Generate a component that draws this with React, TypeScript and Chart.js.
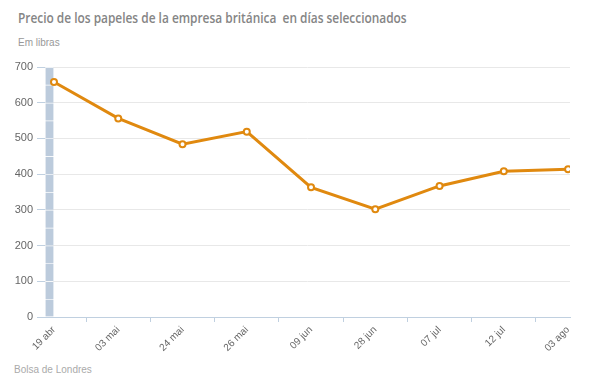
import React, { useEffect, useRef } from "react";
import { Chart, registerables } from "chart.js";

Chart.register(...registerables);

const categories = ["19 abr", "03 mai", "24 mai", "26 mai", "09 jun", "28 jun", "07 jul", "12 jul", "03 ago"];
const prices = [658, 556, 484, 519, 363, 302, 367, 408, 414];
const bandBounds = [0, 50, 100, 150, 200, 250, 300, 350, 400, 450, 500, 550, 600, 650, 700];
const yTicks = [0, 100, 200, 300, 400, 500, 600, 700];

const ORANGE = "#e0890f";

export default function App() {
  const ref = useRef<HTMLCanvasElement | null>(null);

  useEffect(() => {
    if (!ref.current) return;
    const bandData = bandBounds.slice(0, -1).map((b, i) => ({ x: -0.07, y: [b, bandBounds[i + 1]] }));
    const lineData = prices.map((v, i) => ({ x: i, y: v }));
    const chart = new Chart(ref.current, {
      type: "line",
      data: {
        datasets: [
          {
            type: "line",
            data: lineData as any,
            borderColor: ORANGE,
            borderWidth: 3,
            pointRadius: 3,
            pointBorderWidth: 2,
            pointBackgroundColor: "#ffffff",
            pointBorderColor: ORANGE,
            tension: 0,
            order: 0,
          },
          {
            type: "bar",
            data: bandData as any,
            backgroundColor: "#bccbdc",
            borderColor: "#ffffff",
            borderWidth: { top: 1, bottom: 0, left: 0, right: 0 } as any,
            borderSkipped: false,
            barThickness: 8,
            order: 1,
          } as any,
        ],
      },
      options: {
        animation: false,
        responsive: false,
        maintainAspectRatio: false,
        layout: { padding: { left: 0, right: 26, top: 67, bottom: 0 } },
        plugins: { legend: { display: false }, tooltip: { enabled: false }, title: { display: false } },
        scales: {
          x: {
            type: "linear",
            offset: false,
            min: -0.14,
            max: 8.03,
            afterBuildTicks: (scale: any) => {
              const t: any[] = [];
              for (let i = 0; i < categories.length; i++) {
                t.push({ value: i });
                if (i < categories.length - 1) t.push({ value: i + 0.5 });
              }
              scale.ticks = t;
            },
            afterFit: (scale: any) => {
              scale.height = 75;
              scale.paddingLeft = 0;
              scale.paddingRight = 0;
            },
            border: { display: true, color: "#c0d0e0", width: 1 },
            grid: {
              offset: false,
              drawOnChartArea: false,
              drawTicks: true,
              tickLength: 5,
              tickColor: (ctx: any) => (ctx.tick && Number.isInteger(ctx.tick.value) ? "rgba(0,0,0,0)" : "#c0d0e0"),
            },
            ticks: {
              autoSkip: false,
              minRotation: 45,
              maxRotation: 45,
              padding: 2,
              color: "#666666",
              font: { family: "Liberation Sans", size: 10 },
              callback: (v: any) => (Number.isInteger(v) ? categories[v] : ""),
            },
          },
          y: {
            min: 0,
            max: 700,
            afterBuildTicks: (scale: any) => {
              scale.ticks = yTicks.map((v) => ({ value: v }));
            },
            afterFit: (scale: any) => {
              scale.width = 45;
            },
            border: { display: false },
            grid: {
              color: "#e8e8e8",
              lineWidth: 1,
              drawTicks: true,
              tickLength: 8,
              tickColor: "#c0d0e0",
            },
            ticks: {
              padding: 4,
              color: "#666666",
              font: { family: "Liberation Sans", size: 11 },
            },
          },
        },
      },
    });
    return () => chart.destroy();
  }, []);

  return (
    <div style={{ position: "absolute", left: 0, top: 0, width: 596, height: 392, background: "#fff", overflow: "hidden" }}>
      <div
        style={{
          position: "absolute",
          left: 18,
          top: 8,
          fontFamily: "'Open Sans', sans-serif",
          fontWeight: 600,
          fontSize: 14.5,
          color: "#858585",
          whiteSpace: "pre",
          transform: "scaleX(0.82)",
          transformOrigin: "0 0",
        }}
      >
        {"Precio de los papeles de la empresa británica  en días seleccionados"}
      </div>
      <div
        style={{
          position: "absolute",
          left: 18,
          top: 37,
          fontFamily: "'Liberation Sans', sans-serif",
          fontSize: 10,
          color: "#999999",
        }}
      >
        Em libras
      </div>
      <div
        style={{
          position: "absolute",
          left: 14,
          top: 364,
          fontFamily: "'Liberation Sans', sans-serif",
          fontSize: 10,
          color: "#aaaaaa",
        }}
      >
        Bolsa de Londres
      </div>
      <canvas ref={ref} width={596} height={392} style={{ position: "absolute", left: 0, top: 0 }} />
    </div>
  );
}
